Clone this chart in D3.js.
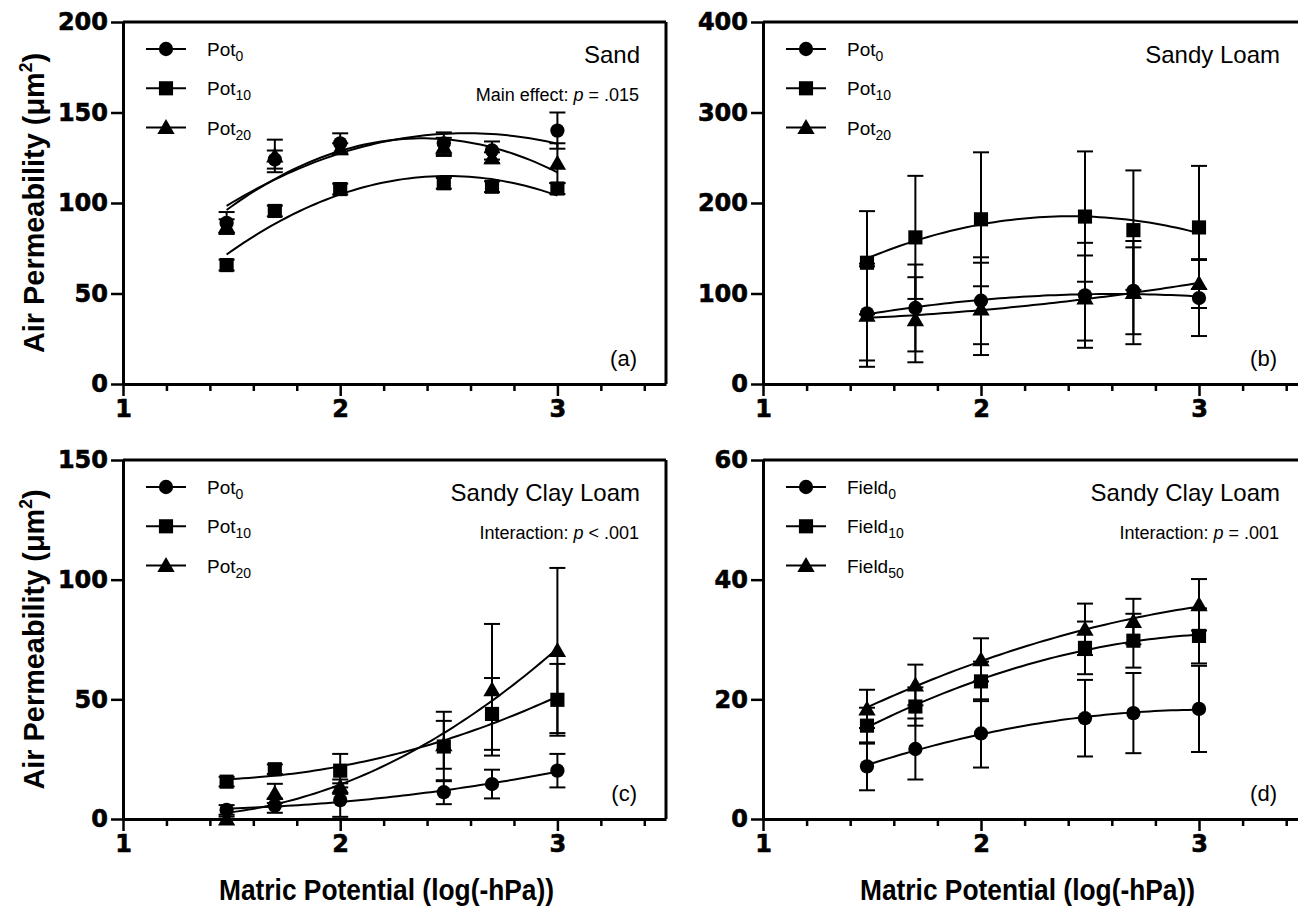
<!DOCTYPE html>
<html>
<head>
<meta charset="utf-8">
<script src="https://cdn.jsdelivr.net/npm/d3@7"></script>
<style>
  body { margin: 0; background: #fff; }
  svg { display: block; }
  .tick text { font-family: "DejaVu Sans", sans-serif; font-weight: bold; font-size: 24px; fill: #000; stroke: #000; stroke-width: 0.6px; }
  .label { font-family: "Liberation Sans", Arial, sans-serif; fill: #000; }
</style>
</head>
<body>
<svg id="chart" width="1298" height="917"></svg>
<script>
// x positions, log10 of matric potential (hPa)
const matricX = [1.477, 1.699, 2, 2.477, 2.699, 3];

// (a) Sand
const sandPot0 = [89, 124, 133, 133, 129, 140];
const sandPot0Err = [6, 5, 5.5, 6, 5, 10];
const sandPot10 = [65.7, 95.6, 107.7, 110.9, 109, 108];
const sandPot10Err = [3, 3, 3, 3, 3, 3];
const sandPot20 = [87, 126, 130, 131, 125, 122];
const sandPot20Err = [4, 9, 3, 5, 3, 11];

// (b) Sandy Loam
const loamPot0 = [78, 84, 92, 98, 103, 95];
const loamPot0Err = [52, 48, 48, 58, 48, 42];
const loamPot10 = [134, 162, 182, 185, 170, 173];
const loamPot10Err = [57, 68, 74, 72, 66, 68];
const loamPot20 = [76, 71, 83, 95, 101, 111];
const loamPot20Err = [57, 47, 51, 47, 57, 27];

// (c) Sandy Clay Loam, pots
const clayPot0 = [3.8, 5.6, 7.9, 11.2, 14.6, 20.2];
const clayPot0Err = [2, 3, 7, 5, 6, 7];
const clayPot10 = [15.6, 20.8, 20.2, 30.3, 43.9, 49.8];
const clayPot10Err = [2, 2, 7, 14.5, 15, 15];
const clayPot20 = [0, 10.7, 13.5, 31, 54, 70.4];
const clayPot20Err = [1, 4, 3, 10, 27.5, 34.5];

// (d) Sandy Clay Loam, field
const field0 = [8.8, 11.7, 14.3, 16.85, 17.7, 18.4];
const field0Err = [4, 5.1, 5.7, 6.4, 6.7, 7.2];
const field10 = [15.6, 18.8, 23, 28.6, 29.8, 30.6];
const field10Err = [3, 3.2, 3.3, 4.4, 4.5, 4.6];
const field50 = [18.4, 22.4, 26.6, 31.7, 33, 35.8];
const field50Err = [3.2, 3.4, 3.6, 4.3, 3.8, 4.3];

const xTicks = [1, 2, 3];
const xMinorTicks = [1.2, 1.4, 1.6, 1.8, 2.2, 2.4, 2.6, 2.8, 3.2, 3.4];

const panels = [
  { left: 123, right: 666, top: 22, bottom: 384, ymax: 200, yticks: [0, 50, 100, 150, 200],
    title: "Sand", stat: ["Main effect: ", "p", " = .015"], tag: "(a)",
    names: [["Pot", "0"], ["Pot", "10"], ["Pot", "20"]],
    series: [[sandPot0, sandPot0Err], [sandPot10, sandPot10Err], [sandPot20, sandPot20Err]] },
  { left: 763, right: 1308, top: 22, bottom: 384, ymax: 400, yticks: [0, 100, 200, 300, 400],
    title: "Sandy Loam", stat: null, tag: "(b)",
    names: [["Pot", "0"], ["Pot", "10"], ["Pot", "20"]],
    series: [[loamPot0, loamPot0Err], [loamPot10, loamPot10Err], [loamPot20, loamPot20Err]] },
  { left: 123, right: 666, top: 460, bottom: 819, ymax: 150, yticks: [0, 50, 100, 150],
    title: "Sandy Clay Loam", stat: ["Interaction: ", "p", " < .001"], tag: "(c)",
    names: [["Pot", "0"], ["Pot", "10"], ["Pot", "20"]],
    series: [[clayPot0, clayPot0Err], [clayPot10, clayPot10Err], [clayPot20, clayPot20Err]] },
  { left: 763, right: 1308, top: 460, bottom: 819, ymax: 60, yticks: [0, 20, 40, 60],
    title: "Sandy Clay Loam", stat: ["Interaction: ", "p", " = .001"], tag: "(d)",
    names: [["Field", "0"], ["Field", "10"], ["Field", "50"]],
    series: [[field0, field0Err], [field10, field10Err], [field50, field50Err]] }
];

const shapes = [d3.symbolCircle, d3.symbolSquare, d3.symbolTriangle];
const shapeSizes = [160, 200, 130];

// least squares quadratic
function quadFit(xs, ys) {
  let n = xs.length, s = [0, 0, 0, 0, 0], t = [0, 0, 0];
  for (let i = 0; i < n; i++) {
    for (let k = 0; k < 5; k++) s[k] += Math.pow(xs[i], k);
    for (let k = 0; k < 3; k++) t[k] += ys[i] * Math.pow(xs[i], k);
  }
  const A = [[s[0], s[1], s[2], t[0]], [s[1], s[2], s[3], t[1]], [s[2], s[3], s[4], t[2]]];
  for (let c = 0; c < 3; c++) {
    for (let r = c + 1; r < 3; r++) {
      const f = A[r][c] / A[c][c];
      for (let k = c; k < 4; k++) A[r][k] -= f * A[c][k];
    }
  }
  const b = [0, 0, 0];
  for (let r = 2; r >= 0; r--) {
    let v = A[r][3];
    for (let k = r + 1; k < 3; k++) v -= A[r][k] * b[k];
    b[r] = v / A[r][r];
  }
  return x => b[0] + b[1] * x + b[2] * x * x;
}

const svg = d3.select("#chart");

panels.forEach(function (p) {
  const x = d3.scaleLinear().domain([1, 3.5]).range([p.left, p.right]);
  const y = d3.scaleLinear().domain([0, p.ymax]).range([p.bottom, p.top]);
  const g = svg.append("g");

  // frame top/right
  g.append("line").attr("x1", p.left).attr("x2", p.right).attr("y1", p.top).attr("y2", p.top)
    .attr("stroke", "#000").attr("stroke-width", 3);
  g.append("line").attr("x1", p.right).attr("x2", p.right).attr("y1", p.top).attr("y2", p.bottom)
    .attr("stroke", "#000").attr("stroke-width", 3);

  // axes
  const yAxis = g.append("g").attr("transform", "translate(" + p.left + ",0)")
    .call(d3.axisLeft(y).tickValues(p.yticks).tickSize(12).tickSizeOuter(0).tickPadding(3));
  const xMinor = g.append("g").attr("transform", "translate(0," + p.bottom + ")")
    .call(d3.axisBottom(x).tickValues(xMinorTicks).tickSize(7).tickSizeOuter(0).tickFormat(""));
  const xAxis = g.append("g").attr("transform", "translate(0," + p.bottom + ")")
    .call(d3.axisBottom(x).tickValues(xTicks).tickSize(12).tickSizeOuter(0).tickPadding(4).tickFormat(d3.format("d")));
  [yAxis, xAxis, xMinor].forEach(a => {
    a.select(".domain").attr("stroke-width", 3);
    a.selectAll(".tick line").attr("stroke-width", 2.5);
  });
  xMinor.select(".domain").remove();

  const line = d3.line().x(d => x(d[0])).y(d => y(d[1])).curve(d3.curveLinear);

  // error bars
  p.series.forEach(function (s) {
    const eb = g.append("g").attr("stroke", "#000").attr("stroke-width", 2);
    matricX.forEach(function (mx, i) {
      const lo = Math.max(0, s[0][i] - s[1][i]), hi = s[0][i] + s[1][i];
      eb.append("line").attr("x1", x(mx)).attr("x2", x(mx)).attr("y1", y(lo)).attr("y2", y(hi));
      eb.append("line").attr("x1", x(mx) - 8).attr("x2", x(mx) + 8).attr("y1", y(hi)).attr("y2", y(hi));
      if (s[0][i] - s[1][i] > 0)
        eb.append("line").attr("x1", x(mx) - 8).attr("x2", x(mx) + 8).attr("y1", y(lo)).attr("y2", y(lo));
    });
  });

  // fitted curves
  p.series.forEach(function (s) {
    const f = quadFit(matricX, s[0]);
    const pts = d3.range(0, 61).map(k => {
      const xv = matricX[0] + (matricX[5] - matricX[0]) * k / 60;
      return [xv, f(xv)];
    });
    g.append("path").attr("d", line(pts)).attr("fill", "none").attr("stroke", "#000").attr("stroke-width", 2);
  });

  // markers
  p.series.forEach(function (s, si) {
    g.append("g").selectAll("path").data(matricX).enter().append("path")
      .attr("d", d3.symbol().type(shapes[si]).size(shapeSizes[si]))
      .attr("transform", (d, i) => "translate(" + x(d) + "," + (y(s[0][i]) + (si === 2 ? 1.5 : 0)) + ")")
      .attr("fill", "#000");
  });

  // legend
  const lx = p.left + 43;
  p.names.forEach(function (nm, i) {
    const ly = p.top + 27 + i * 39.3;
    g.append("line").attr("x1", lx - 20).attr("x2", lx + 20).attr("y1", ly).attr("y2", ly)
      .attr("stroke", "#000").attr("stroke-width", 2);
    g.append("path").attr("d", d3.symbol().type(shapes[i]).size(shapeSizes[i]))
      .attr("transform", "translate(" + lx + "," + (ly + (i === 2 ? 1.5 : 0)) + ")");
    const t = g.append("text").attr("class", "label").attr("x", lx + 41).attr("y", ly + 7)
      .attr("font-size", 19);
    t.append("tspan").text(nm[0]);
    t.append("tspan").attr("font-size", 14).attr("dy", 5).text(nm[1]);
  });

  // titles
  const tr = p.left + 517;
  g.append("text").attr("class", "label").attr("x", tr).attr("y", p.top + 41)
    .attr("text-anchor", "end").attr("font-size", 24).text(p.title);
  if (p.stat) {
    const st = g.append("text").attr("class", "label").attr("x", tr - 1).attr("y", p.top + 79)
      .attr("text-anchor", "end").attr("font-size", 18);
    st.append("tspan").text(p.stat[0]);
    st.append("tspan").attr("font-style", "italic").text(p.stat[1]);
    st.append("tspan").text(p.stat[2]);
  }
  g.append("text").attr("class", "label").attr("x", tr - 3).attr("y", p.bottom - 18)
    .attr("text-anchor", "end").attr("font-size", 22).text(p.tag);

  // axis titles
  if (p.left < 400) {
    const yt = svg.append("text").attr("class", "label")
      .attr("transform", "translate(44," + ((p.top + p.bottom) / 2) + ") rotate(-90)")
      .attr("text-anchor", "middle").attr("font-size", 30).attr("font-weight", "bold")
      .attr("textLength", 300).attr("lengthAdjust", "spacingAndGlyphs");
    yt.append("tspan").text("Air Permeability (\u03bcm");
    yt.append("tspan").attr("font-size", 18).attr("dy", -12).text("2");
    yt.append("tspan").attr("dy", 12).text(")");
  }
  if (p.top > 400) {
    svg.append("text").attr("class", "label")
      .attr("x", (p.left + p.right) / 2 - 8).attr("y", 900)
      .attr("text-anchor", "middle").attr("font-size", 30).attr("font-weight", "bold")
      .attr("textLength", 335).attr("lengthAdjust", "spacingAndGlyphs")
      .text("Matric Potential (log(-hPa))");
  }
});
</script>
</body>
</html>
